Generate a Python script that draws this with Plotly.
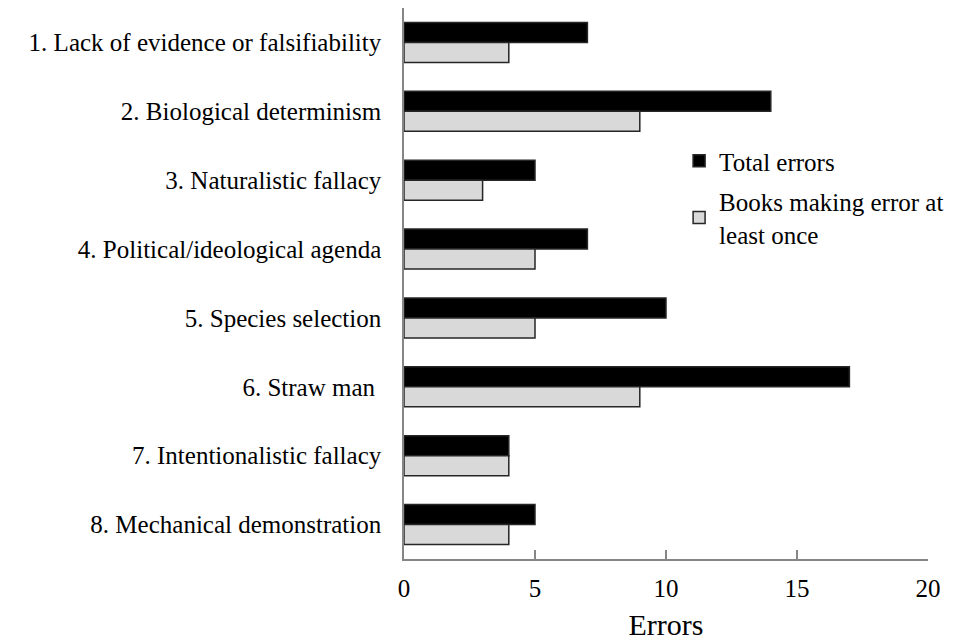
import plotly.graph_objects as go

categories = [
    "1. Lack of evidence or falsifiability",
    "2. Biological determinism",
    "3. Naturalistic fallacy",
    "4. Political/ideological agenda",
    "5. Species selection",
    "6. Straw man\u00a0",
    "7. Intentionalistic fallacy",
    "8. Mechanical demonstration",
]
total_errors = [7, 14, 5, 7, 10, 17, 4, 5]
books_making_error = [4, 9, 3, 5, 5, 9, 4, 4]
x_ticks = [0, 5, 10, 15, 20]

FONT = "Liberation Serif, Times New Roman, serif"

fig = go.Figure()
fig.add_trace(go.Bar(
    y=categories, x=total_errors, orientation="h", name="Total errors",
    marker=dict(color="#000000", line=dict(color="#262626", width=1.5)),
    legendgroup="a",
))
fig.add_trace(go.Bar(
    y=categories, x=books_making_error, orientation="h",
    name="Books making error at<br>least once",
    marker=dict(color="#d9d9d9", line=dict(color="#262626", width=1.5)),
    legendgroup="b",
))

# the page body adds an 8px offset; size the figure to fill the rest of the window
fig.update_layout(
    width=969, height=633,
    margin=dict(l=396, r=49, t=0, b=82),
    paper_bgcolor="white", plot_bgcolor="white",
    font=dict(family=FONT, size=25, color="#000000"),
    barmode="group", bargap=0.42, bargroupgap=0,
    showlegend=True,
    legend=dict(x=0.525, y=0.764, xanchor="left", yanchor="top",
                traceorder="grouped", tracegroupgap=5,
                bgcolor="rgba(0,0,0,0)", font=dict(size=25)),
    xaxis=dict(range=[0, 20], tickvals=x_ticks, showgrid=False, zeroline=False,
               showline=True, linecolor="#868686", linewidth=1.5,
               ticks="inside", ticklen=9, tickcolor="#868686", tickwidth=1.5,
               ticklabelstandoff=6, automargin=False,
               title=dict(text="Errors", standoff=20)),
    yaxis=dict(autorange="reversed", showgrid=False, zeroline=False,
               showline=True, linecolor="#868686", linewidth=1.5,
               ticks="", ticklabelstandoff=16, automargin=False),
)

fig.write_html("out.html")
